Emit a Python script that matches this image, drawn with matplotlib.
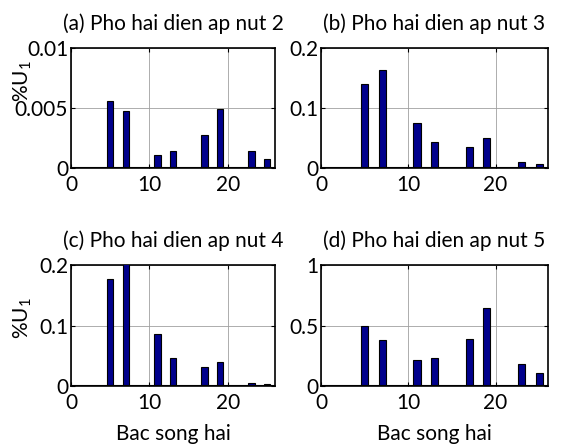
import matplotlib
matplotlib.use("Agg")
import matplotlib.pyplot as plt

orders = [5, 7, 11, 13, 17, 19, 23, 25]
node2 = [0.00559, 0.00478, 0.00112, 0.0014, 0.00278, 0.00494, 0.0014, 0.00079]
node3 = [0.140, 0.164, 0.0746, 0.044, 0.035, 0.0497, 0.0107, 0.0062]
node4 = [0.177, 0.205, 0.0864, 0.0463, 0.0322, 0.039, 0.0056, 0.0028]
node5 = [0.494, 0.377, 0.215, 0.235, 0.388, 0.648, 0.179, 0.106]

titles = ["(a) Pho hai dien ap nut 2", "(b) Pho hai dien ap nut 3",
          "(c) Pho hai dien ap nut 4", "(d) Pho hai dien ap nut 5"]
yticks_list = [[0, 0.005, 0.01], [0, 0.1, 0.2], [0, 0.1, 0.2], [0, 0.5, 1]]
ytick_labels = [["0", "0.005", "0.01"], ["0", "0.1", "0.2"], ["0", "0.1", "0.2"], ["0", "0.5", "1"]]
xticks = [0, 10, 20]
xlabel = "Bac song hai"
ylabel = "%U$_1$"

plt.rcParams['font.family'] = ['Lato', 'DejaVu Sans']
plt.rcParams['mathtext.fontset'] = 'custom'
plt.rcParams['mathtext.rm'] = 'Lato'
plt.rcParams['mathtext.it'] = 'Lato'

W, H = 561, 446
fig = plt.figure(figsize=(W / 100, H / 100), dpi=100)

boxes = [(71, 275, 48, 168), (321, 548, 48, 168), (71, 275, 265, 386), (321, 548, 265, 386)]
data = [node2, node3, node4, node5]
fs = 15

for i, (l, r, t, b) in enumerate(boxes):
    ax = fig.add_axes([l / W, 1 - b / H, (r - l) / W, (b - t) / H])
    ax.bar(orders, data[i], width=0.82, color='#00008C', edgecolor='black', linewidth=0.8, zorder=3)
    ax.axhline(0, color='black', linewidth=1.5, zorder=4)
    ax.set_xlim(0, 26)
    ax.set_ylim(yticks_list[i][0], yticks_list[i][-1])
    ax.set_xticks(xticks)
    ax.set_xticklabels([str(v) for v in xticks], fontsize=fs)
    ax.set_yticks(yticks_list[i])
    ax.set_yticklabels(ytick_labels[i], fontsize=fs)
    ax.grid(True, color='#a0a0a0', linestyle='-', linewidth=0.6, zorder=0)
    ax.tick_params(axis='both', direction='in', top=True, right=True, length=3, width=0.8)
    ax.tick_params(axis='x', pad=5)
    ax.tick_params(axis='y', pad=2)
    for s in ax.spines.values():
        s.set_linewidth(1.2)
        s.set_color('black')
    ax.set_title(titles[i], fontsize=fs, pad=13)
    if i == 0:
        ax.set_ylabel(ylabel, fontsize=fs)
        ax.yaxis.set_label_coords(-0.18, 0.72)
    if i == 2:
        ax.set_ylabel(ylabel, fontsize=fs)
        ax.yaxis.set_label_coords(-0.18, 0.56)
    if i in (2, 3):
        ax.set_xlabel(xlabel, fontsize=fs, labelpad=8)

fig.savefig("out.png", dpi=100)
